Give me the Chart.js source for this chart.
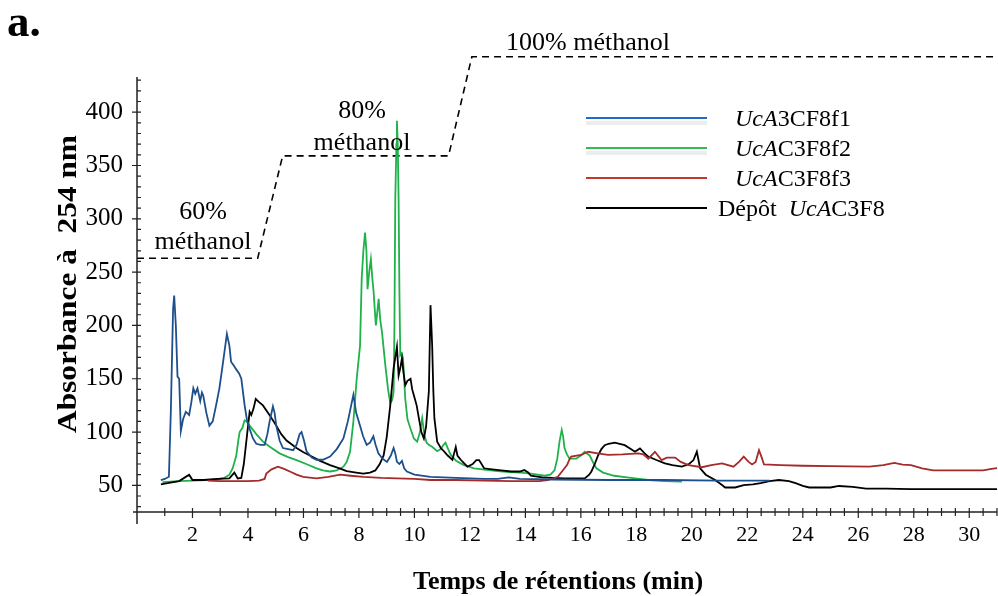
<!DOCTYPE html>
<html>
<head>
<meta charset="utf-8">
<script src="https://cdn.jsdelivr.net/npm/chart.js@4.4.1/dist/chart.umd.min.js"></script>
<style>
  html, body { margin: 0; padding: 0; background: #fff; }
  #grafico { display: block; }
</style>
</head>
<body>
<canvas id="grafico" width="998" height="596"></canvas>
<script>
// temps (min) / absorbance pour chaque fraction
const bleuT = [0.86,1.0,1.15,1.22,1.30,1.34,1.40,1.46,1.52,1.58,1.66,1.76,1.88,1.96,2.03,2.1,2.18,2.28,2.34,2.39,2.5,2.61,2.73,2.85,2.97,3.1,3.24,3.33,3.39,3.5,3.57,3.68,3.76,3.88,3.96,4.06,4.18,4.30,4.45,4.60,4.70,4.78,4.90,4.96,5.02,5.14,5.26,5.45,5.63,5.75,5.86,5.93,6.02,6.11,6.3,6.47,6.7,6.96,7.2,7.44,7.6,7.8,7.9,8.04,8.15,8.28,8.4,8.52,8.6,8.70,8.85,9.01,9.15,9.25,9.31,9.37,9.46,9.55,9.63,9.73,10.0,10.58,11.5,12.5,13.0,13.4,13.8,15,17,19,21,22.8];
const bleuV = [55,56,58,120,215,228,200,152,150,101,112,119,116,128,141,136,141,129,137,134,118,106,110,125,141,165,192,181,166,162,159,155,150,125,112,103,94,89,88,88,98,110,124,118,106,92,85,84,83,88,98,100,92,82,76,74,74,77,84,94,110,135,118,106,96,88,90,96,88,80,75,72,78,85,80,72,70,73,66,63,60,58,57,56,56,57.5,56,55.5,55,55,54.5,54.5];

const vertT = [0.92,1.5,2.0,2.5,2.9,3.15,3.33,3.45,3.58,3.65,3.70,3.80,3.88,3.95,4.06,4.3,4.54,4.8,5.14,5.45,5.75,6.1,6.47,6.7,6.96,7.2,7.44,7.56,7.68,7.8,7.92,8.04,8.10,8.16,8.22,8.27,8.31,8.37,8.43,8.48,8.53,8.57,8.61,8.66,8.71,8.77,8.83,8.95,9.05,9.13,9.2,9.25,9.28,9.31,9.35,9.37,9.40,9.43,9.46,9.49,9.54,9.59,9.63,9.67,9.75,9.86,9.98,10.1,10.2,10.28,10.36,10.44,10.52,10.65,10.82,10.95,11.05,11.12,11.2,11.30,11.5,11.67,11.79,12.15,12.6,13.0,13.4,13.84,14.2,14.69,14.9,15.05,15.15,15.23,15.31,15.36,15.41,15.5,15.59,15.83,16.0,16.14,16.2,16.32,16.45,16.56,16.8,17.2,17.8,18.43,19.0,19.64];
const vertV = [53,54,54.5,55,55.5,57,60,66,78,92,100,104,111,110,106,98,91,86,80,76.5,73.7,70,66,64,63,64,67.5,72,81.5,110,150,181,244,270,287,270,234,250,262,245,231,215,200,212,225,205,194,163,140,127,130,138,200,318,370,392,370,318,230,172,174,169,150,131,112,103,94,91,100,113,97,90,88,86,82,84,88,90,85,79,73,70.6,69,66,64.5,63.4,62.5,62,61,59,60,64,75,91,102,96,85,79,75,75,78,81.5,80,78,71,66,62,59,57,55,54,53.5];

const rougeT = [2.55,3,3.5,4.0,4.4,4.6,4.66,4.85,5.08,5.3,5.51,5.75,5.99,6.47,6.9,7.32,7.7,8.16,8.8,9.37,10,10.58,11.5,12.5,13.5,14.5,14.8,15.17,15.41,15.5,15.6,15.65,16.01,16.26,16.6,16.98,17.5,18.07,18.25,18.43,18.67,18.91,19.1,19.4,19.6,19.88,20.36,20.7,21.09,21.5,21.7,21.87,22.05,22.17,22.3,22.42,22.52,22.6,23.2,23.99,25,26.4,26.9,27.3,27.6,27.9,28.3,28.7,29.5,30.5,30.8,31.1];
const rougeV = [54.5,54,54,54,54.5,56,61,65,67.5,65.5,63,60,58,56.5,58,60,59,58,57,56.5,56,55,55,54.5,54,54,55,58,66,69,75,77,78.5,81.5,80,78.5,79,80,79,75,81.5,73.7,76,76,72,69,67,69,70.6,67.5,72,77,72,69.6,72,83,76,69.6,69,68.4,68,67.5,69,71,69.5,69,66,64,64,64,65.5,66.5];

const noirT = [0.86,1.1,1.52,1.7,1.88,2.0,2.4,2.9,3.33,3.51,3.63,3.76,3.85,3.94,4.06,4.12,4.2,4.28,4.4,4.54,4.8,5.02,5.2,5.39,5.75,6.0,6.23,6.6,6.96,7.3,7.56,7.9,8.16,8.4,8.59,8.75,8.89,9.0,9.13,9.25,9.37,9.43,9.49,9.55,9.61,9.67,9.75,9.86,9.92,9.98,10.08,10.16,10.25,10.34,10.42,10.52,10.58,10.64,10.68,10.72,10.82,10.95,11.06,11.2,11.37,11.43,11.49,11.55,11.67,11.91,12.1,12.23,12.33,12.42,12.51,12.8,13.12,13.5,13.8,13.96,14.1,14.2,14.6,15.0,15.41,16.14,16.3,16.38,16.5,16.62,16.74,16.86,17.0,17.22,17.4,17.58,17.8,17.95,18.13,18.3,18.43,18.7,19.03,19.3,19.64,19.9,20.06,20.18,20.3,20.5,20.84,21.1,21.2,21.56,21.87,22.2,22.48,22.8,23.14,23.5,23.74,24.0,24.23,25.0,25.3,25.8,26.28,27.0,27.9,29,31.05];
const noirV = [51,52,54,57,60,55,55,56,56.5,62,56.5,57,70,91,119,116,122,131,128,125,115,106,98,92,85,81,78,73,69,66,63.4,62,61,62,64,70,78,95,125,160,180,153,160,169,155,144,148,150,140,134.5,125,113,100,94,105,138,219,181,140,113,91,85,82,78,74,80,86,78,74,67.5,70,73.7,73.7,70,66,65,64,63,63,64.3,62,59,57.5,57,56.5,56.5,60,63,70,78,84,87.7,89,90,89,87.7,84,81.5,84.6,80,77,74,70.6,69,67.5,70,73.7,81.5,66,60,55,50,48,48,50.3,51,52,54,55,54,52,49.5,48,48,49.4,48.5,47,47,46.5,46.5,46.5];

// gradient de méthanol (pointillés)
const gradientT = [0, 4.35, 5.25, 11.23, 12.07, 31];
const gradientV = [263, 263, 359, 359, 452, 452];

const xTicks = [2,4,6,8,10,12,14,16,18,20,22,24,26,28,30];
const yTicks = [50,100,150,200,250,300,350,400];

const legendes = [
  [['UcA', true], ['3CF8f1', false]],
  [['UcA', true], ['C3F8f2', false]],
  [['UcA', true], ['C3F8f3', false]],
  [['Dépôt  ', false], ['UcA', true], ['C3F8', false]]
];
const couleursLegende = ['#1f6cc4', '#33bb55', '#c0392b', '#000000'];

const SERIF = '"Liberation Serif", "Times New Roman", serif';

function points(t, v) {
  return t.map((x, i) => ({ x: x, y: v[i] }));
}

const decor = {
  id: 'decor',
  afterDraw(chart) {
    const ctx = chart.ctx;
    const xs = chart.scales.x;
    const ys = chart.scales.y;
    const area = chart.chartArea;
    ctx.save();
    ctx.fillStyle = '#000';

    // axes
    ctx.strokeStyle = '#222';
    ctx.lineWidth = 1.5;
    ctx.beginPath();
    ctx.moveTo(area.left, area.top);
    ctx.lineTo(area.left, area.bottom + 12);
    ctx.moveTo(area.left - 4, area.bottom);
    ctx.lineTo(area.right, area.bottom);
    ctx.stroke();

    ctx.lineWidth = 1.2;
    ctx.beginPath();
    for (let v = 1; v <= 31; v += (v < 5 ? 1 : 0.5)) {
      const px = xs.getPixelForValue(v);
      const major = xTicks.includes(v);
      ctx.moveTo(px, area.bottom - 4);
      ctx.lineTo(px, area.bottom + (major ? 6 : 4));
    }
    for (let v = 30; v <= 430; v += 10) {
      const py = ys.getPixelForValue(v);
      const major = yTicks.includes(v);
      ctx.moveTo(area.left - (major ? 5 : 0), py);
      ctx.lineTo(area.left + 4, py);
    }
    ctx.stroke();

    // "a."
    ctx.font = 'bold 45px ' + SERIF;
    ctx.textAlign = 'left';
    ctx.textBaseline = 'alphabetic';
    ctx.fillText('a.', 7, 36);

    // étiquettes du gradient
    ctx.font = '26px ' + SERIF;
    ctx.textAlign = 'center';
    ctx.fillText('60%', 203, 219);
    ctx.fillText('méthanol', 203, 249);
    ctx.fillText('80%', 362, 118);
    ctx.fillText('méthanol', 362, 150);
    ctx.fillText('100% méthanol', 588, 50);

    // légende
    ctx.font = '24px ' + SERIF;
    ctx.textAlign = 'left';
    legendes.forEach((parts, i) => {
      const y = 118 + i * 30;
      if (i < 2) {
        ctx.strokeStyle = 'rgba(0,0,0,0.07)';
        ctx.lineWidth = 4;
        ctx.beginPath();
        ctx.moveTo(586, y + 5);
        ctx.lineTo(707, y + 5);
        ctx.stroke();
      }
      ctx.strokeStyle = couleursLegende[i];
      ctx.lineWidth = 2;
      ctx.beginPath();
      ctx.moveTo(586, y);
      ctx.lineTo(707, y);
      ctx.stroke();
      let x = i === 3 ? 718 : 735;
      parts.forEach(([txt, it]) => {
        ctx.font = (it ? 'italic ' : '') + '24px ' + SERIF;
        ctx.fillText(txt, x, y + 8);
        x += ctx.measureText(txt).width;
      });
    });

    // titres des axes
    ctx.font = 'bold 26px ' + SERIF;
    ctx.textAlign = 'center';
    ctx.fillText('Temps de rétentions (min)', 558, 589);

    ctx.translate(76, 284);
    ctx.rotate(-Math.PI / 2);
    ctx.scale(1.12, 1);
    ctx.font = 'bold 28px ' + SERIF;
    ctx.fillText('Absorbance à  254 nm', 0, 0);
    ctx.restore();
  }
};

const canvas = document.getElementById('grafico');

new Chart(canvas, {
  type: 'line',
  data: {
    datasets: [
      { label: 'UcA3CF8f1', data: points(bleuT, bleuV), borderColor: '#1d4f8c' },
      { label: 'UcAC3F8f3', data: points(rougeT, rougeV), borderColor: '#a52a2a' },
      { label: 'Dépôt UcAC3F8', data: points(noirT, noirV), borderColor: '#000000' },
      { label: 'UcAC3F8f2', data: points(vertT, vertV), borderColor: '#1fb24a' },
      { label: 'gradient', data: points(gradientT, gradientV), borderColor: '#000000',
        borderDash: [7, 5], borderWidth: 1.6, clip: false }
    ]
  },
  options: {
    responsive: false,
    animation: false,
    elements: {
      point: { radius: 0 },
      line: { borderWidth: 1.8, tension: 0, fill: false }
    },
    layout: { padding: { left: 0, right: 1, top: 77, bottom: 0 } },
    plugins: { legend: { display: false }, tooltip: { enabled: false } },
    scales: {
      x: {
        type: 'linear',
        min: 0,
        max: 31,
        afterFit: s => { s.height = 84; },
        afterBuildTicks: s => { s.ticks = xTicks.map(v => ({ value: v })); },
        grid: { display: false, drawTicks: false },
        border: { display: false },
        ticks: { color: '#000', padding: 10, maxRotation: 0, autoSkip: false,
                 font: { family: SERIF, size: 22 } }
      },
      y: {
        min: 25,
        max: 433,
        afterFit: s => { s.width = 137; },
        afterBuildTicks: s => { s.ticks = yTicks.map(v => ({ value: v })); },
        grid: { display: false, drawTicks: false },
        border: { display: false },
        ticks: { color: '#000', padding: 14,
                 font: { family: SERIF, size: 25 } }
      }
    }
  },
  plugins: [decor]
});
</script>
</body>
</html>
